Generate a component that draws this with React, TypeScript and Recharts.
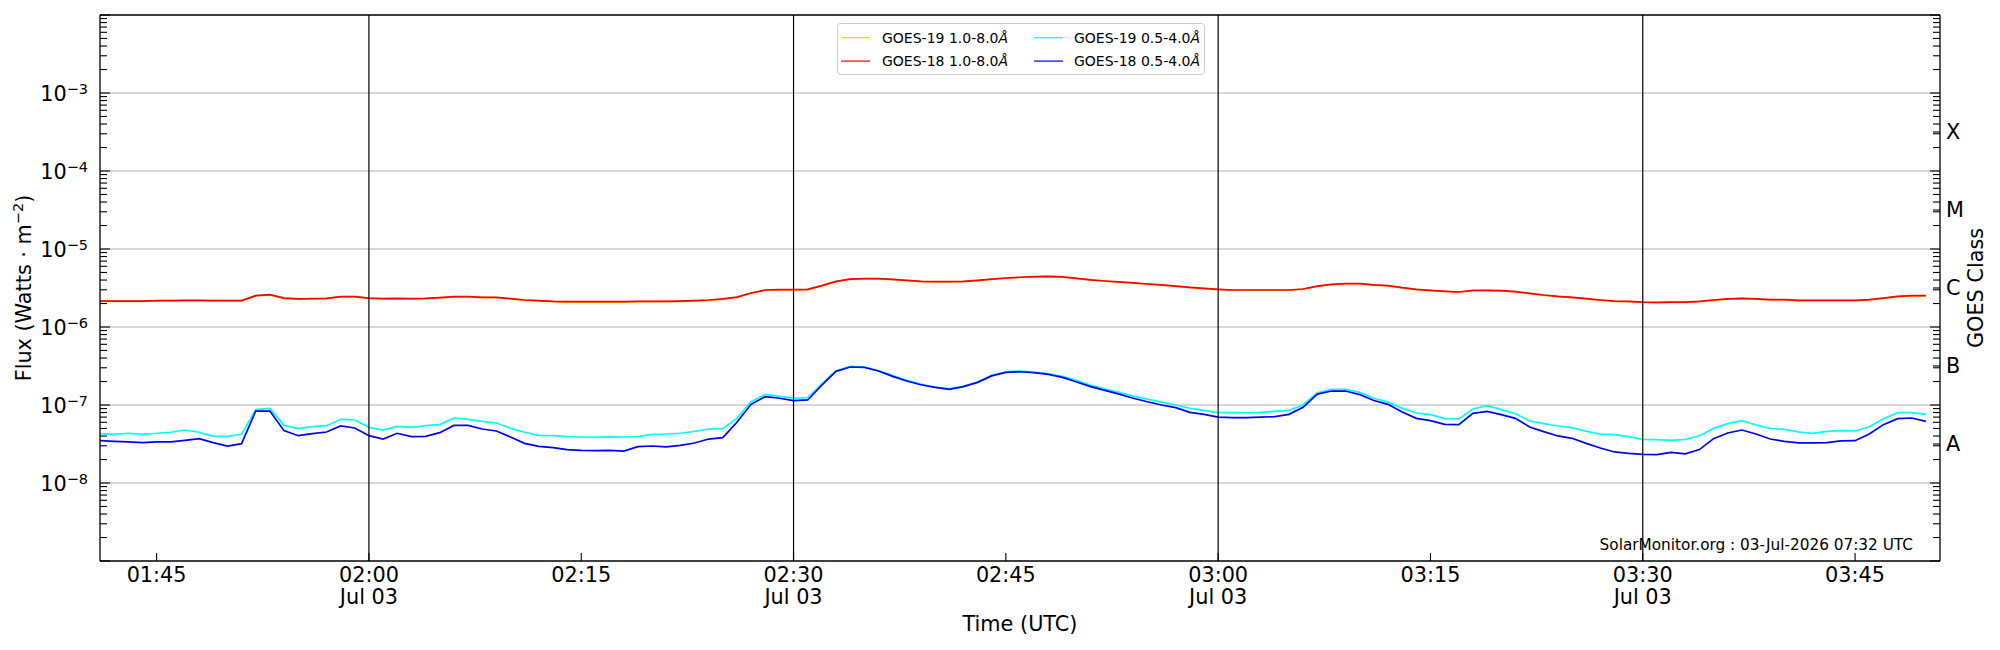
import React from 'react';
import {
  LineChart,
  Line,
  XAxis,
  YAxis,
  ReferenceLine,
  Legend,
  Customized,
} from 'recharts';

// ---------------- data (1-minute GOES XRS fluxes, W/m^2) ----------------
// first sample at 01:41 UTC (minutes after midnight)
const START_MINUTE = 101;

const G18_LONG = [
  2.15e-6, 2.15e-6, 2.15e-6, 2.15e-6, 2.18e-6, 2.18e-6, 2.2e-6, 2.2e-6, 2.18e-6, 2.18e-6,
  2.18e-6, 2.52e-6, 2.6e-6, 2.35e-6, 2.29e-6, 2.31e-6, 2.33e-6, 2.45e-6, 2.45e-6, 2.35e-6,
  2.31e-6, 2.33e-6, 2.31e-6, 2.33e-6, 2.38e-6, 2.45e-6, 2.45e-6, 2.4e-6, 2.4e-6, 2.31e-6,
  2.22e-6, 2.18e-6, 2.13e-6, 2.11e-6, 2.11e-6, 2.11e-6, 2.11e-6, 2.11e-6, 2.13e-6, 2.13e-6,
  2.13e-6, 2.15e-6, 2.18e-6, 2.22e-6, 2.29e-6, 2.42e-6, 2.73e-6, 2.98e-6, 3.01e-6, 3.01e-6,
  3.04e-6, 3.39e-6, 3.85e-6, 4.12e-6, 4.17e-6, 4.17e-6, 4.08e-6, 3.97e-6, 3.85e-6, 3.81e-6,
  3.81e-6, 3.85e-6, 3.97e-6, 4.12e-6, 4.25e-6, 4.34e-6, 4.42e-6, 4.46e-6, 4.38e-6, 4.21e-6,
  4.01e-6, 3.89e-6, 3.78e-6, 3.67e-6, 3.56e-6, 3.46e-6, 3.35e-6, 3.22e-6, 3.13e-6, 3.04e-6,
  2.98e-6, 2.98e-6, 2.98e-6, 2.98e-6, 2.98e-6, 3.07e-6, 3.35e-6, 3.52e-6, 3.59e-6, 3.59e-6,
  3.46e-6, 3.39e-6, 3.19e-6, 3.04e-6, 2.95e-6, 2.87e-6, 2.81e-6, 2.95e-6, 2.95e-6, 2.92e-6,
  2.84e-6, 2.7e-6, 2.57e-6, 2.47e-6, 2.4e-6, 2.31e-6, 2.22e-6, 2.15e-6, 2.13e-6, 2.09e-6,
  2.07e-6, 2.09e-6, 2.09e-6, 2.13e-6, 2.22e-6, 2.29e-6, 2.33e-6, 2.29e-6, 2.24e-6, 2.24e-6,
  2.2e-6, 2.2e-6, 2.2e-6, 2.2e-6, 2.2e-6, 2.24e-6, 2.35e-6, 2.47e-6, 2.52e-6, 2.52e-6,
];

// GOES-19 long channel lies underneath the GOES-18 one in the picture
const G19_LONG = [
  2.13e-6, 2.13e-6, 2.13e-6, 2.13e-6, 2.16e-6, 2.16e-6, 2.18e-6, 2.18e-6, 2.16e-6, 2.16e-6,
  2.16e-6, 2.5e-6, 2.58e-6, 2.33e-6, 2.27e-6, 2.29e-6, 2.31e-6, 2.43e-6, 2.43e-6, 2.33e-6,
  2.29e-6, 2.31e-6, 2.29e-6, 2.31e-6, 2.36e-6, 2.43e-6, 2.43e-6, 2.38e-6, 2.38e-6, 2.29e-6,
  2.2e-6, 2.16e-6, 2.11e-6, 2.09e-6, 2.09e-6, 2.09e-6, 2.09e-6, 2.09e-6, 2.11e-6, 2.11e-6,
  2.11e-6, 2.13e-6, 2.16e-6, 2.2e-6, 2.27e-6, 2.4e-6, 2.71e-6, 2.96e-6, 2.99e-6, 2.99e-6,
  3.02e-6, 3.37e-6, 3.82e-6, 4.09e-6, 4.14e-6, 4.14e-6, 4.05e-6, 3.94e-6, 3.82e-6, 3.78e-6,
  3.78e-6, 3.82e-6, 3.94e-6, 4.09e-6, 4.22e-6, 4.31e-6, 4.39e-6, 4.43e-6, 4.35e-6, 4.18e-6,
  3.98e-6, 3.86e-6, 3.75e-6, 3.64e-6, 3.53e-6, 3.43e-6, 3.32e-6, 3.2e-6, 3.11e-6, 3.02e-6,
  2.96e-6, 2.96e-6, 2.96e-6, 2.96e-6, 2.96e-6, 3.05e-6, 3.32e-6, 3.49e-6, 3.56e-6, 3.56e-6,
  3.43e-6, 3.37e-6, 3.17e-6, 3.02e-6, 2.93e-6, 2.85e-6, 2.79e-6, 2.93e-6, 2.93e-6, 2.9e-6,
  2.82e-6, 2.68e-6, 2.55e-6, 2.45e-6, 2.38e-6, 2.29e-6, 2.2e-6, 2.13e-6, 2.11e-6, 2.07e-6,
  2.05e-6, 2.07e-6, 2.07e-6, 2.11e-6, 2.2e-6, 2.27e-6, 2.31e-6, 2.27e-6, 2.22e-6, 2.22e-6,
  2.18e-6, 2.18e-6, 2.18e-6, 2.18e-6, 2.18e-6, 2.22e-6, 2.33e-6, 2.45e-6, 2.5e-6, 2.5e-6,
];

const G19_SHORT = [
  4.29e-8, 4.21e-8, 4.34e-8, 4.21e-8, 4.34e-8, 4.47e-8, 4.78e-8, 4.47e-8, 3.96e-8, 3.96e-8,
  4.21e-8, 8.71e-8, 9.06e-8, 5.48e-8, 4.97e-8, 5.27e-8, 5.43e-8, 6.55e-8, 6.42e-8, 5.17e-8,
  4.78e-8, 5.33e-8, 5.17e-8, 5.43e-8, 5.6e-8, 6.81e-8, 6.55e-8, 6.18e-8, 5.88e-8, 5.02e-8,
  4.47e-8, 4.08e-8, 4.04e-8, 3.93e-8, 3.89e-8, 3.85e-8, 3.93e-8, 3.89e-8, 3.93e-8, 4.21e-8,
  4.25e-8, 4.34e-8, 4.6e-8, 4.92e-8, 4.97e-8, 6.75e-8, 1.1e-7, 1.37e-7, 1.29e-7, 1.22e-7,
  1.24e-7, 1.86e-7, 2.75e-7, 3.13e-7, 3.07e-7, 2.75e-7, 2.38e-7, 2.07e-7, 1.84e-7, 1.7e-7,
  1.62e-7, 1.73e-7, 1.97e-7, 2.4e-7, 2.67e-7, 2.73e-7, 2.62e-7, 2.52e-7, 2.33e-7, 2.05e-7,
  1.79e-7, 1.6e-7, 1.45e-7, 1.3e-7, 1.19e-7, 1.09e-7, 1.0e-7, 9.06e-8, 8.55e-8, 7.98e-8,
  7.98e-8, 7.98e-8, 8.05e-8, 8.29e-8, 8.55e-8, 1.0e-7, 1.43e-7, 1.59e-7, 1.59e-7, 1.45e-7,
  1.22e-7, 1.09e-7, 9.06e-8, 7.89e-8, 7.51e-8, 6.68e-8, 6.62e-8, 8.89e-8, 9.8e-8, 8.71e-8,
  7.74e-8, 6.24e-8, 5.77e-8, 5.38e-8, 5.12e-8, 4.6e-8, 4.25e-8, 4.17e-8, 3.93e-8, 3.63e-8,
  3.6e-8, 3.52e-8, 3.63e-8, 4.04e-8, 5.02e-8, 5.77e-8, 6.3e-8, 5.54e-8, 5.02e-8, 4.88e-8,
  4.51e-8, 4.34e-8, 4.6e-8, 4.69e-8, 4.64e-8, 5.27e-8, 6.68e-8, 7.98e-8, 7.98e-8, 7.59e-8,
];

const G18_SHORT = [
  3.49e-8, 3.42e-8, 3.36e-8, 3.29e-8, 3.36e-8, 3.36e-8, 3.52e-8, 3.7e-8, 3.29e-8, 2.98e-8,
  3.19e-8, 8.37e-8, 8.37e-8, 4.69e-8, 4.04e-8, 4.29e-8, 4.51e-8, 5.38e-8, 5.07e-8, 4.04e-8,
  3.66e-8, 4.34e-8, 3.93e-8, 3.96e-8, 4.42e-8, 5.48e-8, 5.48e-8, 4.92e-8, 4.64e-8, 3.89e-8,
  3.22e-8, 2.95e-8, 2.84e-8, 2.68e-8, 2.62e-8, 2.6e-8, 2.62e-8, 2.57e-8, 2.92e-8, 2.98e-8,
  2.9e-8, 3.04e-8, 3.26e-8, 3.66e-8, 3.81e-8, 6.0e-8, 1.02e-7, 1.28e-7, 1.22e-7, 1.14e-7,
  1.16e-7, 1.8e-7, 2.7e-7, 3.07e-7, 3.04e-7, 2.73e-7, 2.33e-7, 2.03e-7, 1.82e-7, 1.68e-7,
  1.59e-7, 1.72e-7, 1.95e-7, 2.36e-7, 2.62e-7, 2.67e-7, 2.6e-7, 2.47e-7, 2.26e-7, 1.97e-7,
  1.72e-7, 1.54e-7, 1.38e-7, 1.22e-7, 1.1e-7, 1.0e-7, 9.25e-8, 8.05e-8, 7.59e-8, 7.01e-8,
  6.88e-8, 6.88e-8, 7.01e-8, 7.08e-8, 7.59e-8, 9.33e-8, 1.38e-7, 1.51e-7, 1.51e-7, 1.36e-7,
  1.14e-7, 1.02e-7, 8.13e-8, 6.75e-8, 6.3e-8, 5.65e-8, 5.6e-8, 7.82e-8, 8.29e-8, 7.51e-8,
  6.75e-8, 5.22e-8, 4.55e-8, 4.01e-8, 3.74e-8, 3.22e-8, 2.81e-8, 2.5e-8, 2.4e-8, 2.33e-8,
  2.31e-8, 2.47e-8, 2.36e-8, 2.68e-8, 3.7e-8, 4.38e-8, 4.78e-8, 4.25e-8, 3.66e-8, 3.42e-8,
  3.26e-8, 3.26e-8, 3.29e-8, 3.46e-8, 3.49e-8, 4.25e-8, 5.6e-8, 6.68e-8, 6.81e-8, 6.18e-8,
];

// ---------------- axes ----------------
const X_DOMAIN = [101, 231]; // 01:41 .. 03:51 UTC
const X_TICK_MINUTES = [105, 120, 135, 150, 165, 180, 195, 210, 225];
const X_TICK_LABELS = ['01:45', '02:00', '02:15', '02:30', '02:45', '03:00', '03:15', '03:30', '03:45'];
const X_TICK_DATES = ['', 'Jul 03', '', 'Jul 03', '', 'Jul 03', '', 'Jul 03', ''];
const DAY_LINES = [120, 150, 180, 210];

const Y_DOMAIN = [1e-9, 1e-2];
const Y_LABEL_VALUES = [1e-8, 1e-7, 1e-6, 1e-5, 1e-4, 1e-3];
const Y_LABEL_EXPONENTS = ['\u22128', '\u22127', '\u22126', '\u22125', '\u22124', '\u22123'];
const DECADES = [1e-9, 1e-8, 1e-7, 1e-6, 1e-5, 1e-4, 1e-3];
const MINOR_STEPS = [2, 3, 4, 5, 6, 7, 8, 9];

const CLASS_VALUES = [3.1623e-8, 3.1623e-7, 3.1623e-6, 3.1623e-5, 3.1623e-4];
const CLASS_LABELS = ['A', 'B', 'C', 'M', 'X'];

const SERIES = [
  { key: 'g19l', name: 'GOES-19 1.0-8.0', color: '#ffd000' },
  { key: 'g18l', name: 'GOES-18 1.0-8.0', color: '#ff0000' },
  { key: 'g19s', name: 'GOES-19 0.5-4.0', color: '#00ffff' },
  { key: 'g18s', name: 'GOES-18 0.5-4.0', color: '#0000ff' },
];

const data = G18_LONG.map((_, i) => ({
  t: START_MINUTE + i,
  g19l: G19_LONG[i],
  g18l: G18_LONG[i],
  g19s: G19_SHORT[i],
  g18s: G18_SHORT[i],
}));

const LOG_TICKS: number[] = [];
DECADES.forEach((d) => {
  LOG_TICKS.push(d);
  MINOR_STEPS.forEach((k) => LOG_TICKS.push(k * d));
});
LOG_TICKS.push(1e-2);

const RIGHT_TICKS = [...LOG_TICKS, ...CLASS_VALUES];

const FONT = '"DejaVu Sans", Verdana, sans-serif';
const FS = 20.8;

const near = (a: number, b: number) => Math.abs(a - b) / b < 1e-3;
const isDecade = (v: number) => {
  const l = Math.log10(v);
  return Math.abs(l - Math.round(l)) < 1e-6;
};

const LeftTick = (props: any) => {
  const { x, y, payload } = props;
  const v = payload.value as number;
  const major = isDecade(v);
  const len = major ? 10 : 7;
  const li = Y_LABEL_VALUES.findIndex((lv) => near(v, lv));
  return (
    <g>
      <line x1={x} x2={x + len} y1={y} y2={y} stroke="#000" strokeWidth={1.1} />
      {li >= 0 && (
        <text x={x - 12} y={y + 7.5} textAnchor="end" fontSize={FS} fontFamily={FONT} fill="#000">
          10
          <tspan dy={-7} fontSize={14.5}>
            {Y_LABEL_EXPONENTS[li]}
          </tspan>
        </text>
      )}
    </g>
  );
};

const RightTick = (props: any) => {
  const { x, y, payload } = props;
  const v = payload.value as number;
  const ci = CLASS_VALUES.findIndex((cv) => near(v, cv));
  const len = isDecade(v) ? 10 : 7;
  return (
    <g>
      <line x1={x} x2={x - len} y1={y} y2={y} stroke="#000" strokeWidth={1.1} />
      {ci >= 0 && (
        <text x={x + 6} y={y + 7.5} textAnchor="start" fontSize={FS} fontFamily={FONT} fill="#000">
          {CLASS_LABELS[ci]}
        </text>
      )}
    </g>
  );
};

const BottomTick = (props: any) => {
  const { x, y, payload } = props;
  const i = X_TICK_MINUTES.indexOf(payload.value);
  return (
    <g>
      <line x1={x} x2={x} y1={y} y2={y - 8} stroke="#000" strokeWidth={1.1} />
      <text x={x} y={y + 20.8} textAnchor="middle" fontSize={FS} fontFamily={FONT} fill="#000">
        {X_TICK_LABELS[i]}
      </text>
      {X_TICK_DATES[i] && (
        <text x={x} y={y + 43} textAnchor="middle" fontSize={FS} fontFamily={FONT} fill="#000">
          {X_TICK_DATES[i]}
        </text>
      )}
    </g>
  );
};

const XLabel = (props: any) => {
  const vb = props.viewBox || { x: 92, y: 553, width: 1840 };
  return (
    <text x={vb.x + vb.width / 2} y={vb.y + 69.5} textAnchor="middle" fontSize={FS} fontFamily={FONT} fill="#000">
      Time (UTC)
    </text>
  );
};

const YLabelLeft = (props: any) => {
  const vb = props.viewBox || { x: 0, y: 7, width: 92, height: 546 };
  const cx = vb.x + 22.5;
  const cy = vb.y + vb.height / 2;
  return (
    <text
      x={cx}
      y={cy}
      transform={`rotate(-90, ${cx}, ${cy})`}
      textAnchor="middle"
      fontSize={FS}
      fontFamily={FONT}
      fill="#000"
    >
      Flux (Watts · m
      <tspan dy={-8} fontSize={14.5}>
        {'\u22122'}
      </tspan>
      <tspan dy={8}>)</tspan>
    </text>
  );
};

const YLabelRight = (props: any) => {
  const vb = props.viewBox || { x: 1932, y: 7, width: 52, height: 546 };
  const cx = vb.x + 43;
  const cy = vb.y + vb.height / 2;
  return (
    <text
      x={cx}
      y={cy}
      transform={`rotate(-90, ${cx}, ${cy})`}
      textAnchor="middle"
      fontSize={FS}
      fontFamily={FONT}
      fill="#000"
    >
      GOES Class
    </text>
  );
};

const Watermark = () => (
  <text x={1905} y={541.5} textAnchor="end" fontSize={15.3} fontFamily={FONT} fill="#000">
    SolarMonitor.org : 03-Jul-2026 07:32 UTC
  </text>
);

const LegendBox = () => {
  const cols = [
    { lx: 4, tx: 45 },
    { lx: 197, tx: 237 },
  ];
  const rows = [19.7, 43.1];
  return (
    <svg width={368} height={52} style={{ display: 'block' }}>
      <rect x={0.5} y={0.5} width={367} height={51} rx={3} ry={3} fill="#ffffff" fillOpacity={0.8} stroke="#cccccc" strokeWidth={1} />
      {SERIES.map((s, i) => {
        const c = cols[Math.floor(i / 2)];
        const ry = rows[i % 2];
        return (
          <g key={s.key}>
            <line x1={c.lx} x2={c.lx + 29} y1={ry - 5} y2={ry - 5} stroke={s.color} strokeWidth={1.2} />
            <text x={c.tx} y={ry} fontSize={14} fontFamily={FONT} fill="#000">
              {s.name}
              <tspan fontStyle="italic">Å</tspan>
            </text>
          </g>
        );
      })}
    </svg>
  );
};

export default function App() {
  return (
    <div style={{ width: 1984, height: 640, position: 'relative' }}>
      <LineChart width={1984} height={640} data={data} margin={{ top: 7, right: 0, bottom: 0, left: 0 }}>
        <XAxis
          dataKey="t"
          type="number"
          domain={X_DOMAIN}
          allowDataOverflow
          ticks={X_TICK_MINUTES}
          interval={0}
          tickSize={0}
          tickMargin={0}
          tickLine={false}
          tick={<BottomTick />}
          axisLine={{ stroke: '#000', strokeWidth: 1.3 }}
          height={87}
          label={<XLabel />}
        />
        <YAxis
          yAxisId="left"
          orientation="left"
          scale="log"
          domain={Y_DOMAIN}
          allowDataOverflow
          ticks={LOG_TICKS}
          interval={0}
          tickSize={0}
          tickMargin={0}
          tickLine={false}
          tick={<LeftTick />}
          axisLine={{ stroke: '#000', strokeWidth: 1.3 }}
          width={92}
          label={<YLabelLeft />}
        />
        <YAxis
          yAxisId="right"
          orientation="right"
          scale="log"
          domain={Y_DOMAIN}
          allowDataOverflow
          ticks={RIGHT_TICKS}
          interval={0}
          tickSize={0}
          tickMargin={0}
          tickLine={false}
          tick={<RightTick />}
          axisLine={{ stroke: '#000', strokeWidth: 1.3 }}
          width={52}
          label={<YLabelRight />}
        />
        {Y_LABEL_VALUES.map((v) => (
          <ReferenceLine key={`g${v}`} yAxisId="left" y={v} stroke="#b0b0b0" strokeWidth={1} />
        ))}
        <ReferenceLine yAxisId="left" y={1e-2} stroke="#000" strokeWidth={1.3} />
        {SERIES.map((s) => (
          <Line
            key={s.key}
            yAxisId="left"
            type="linear"
            dataKey={s.key}
            name={s.name}
            stroke={s.color}
            strokeWidth={1.7}
            dot={false}
            activeDot={false}
            isAnimationActive={false}
          />
        ))}
        {DAY_LINES.map((m) => (
          <ReferenceLine key={`d${m}`} yAxisId="left" x={m} stroke="#000" strokeWidth={1.2} />
        ))}
        <Legend
          layout="vertical"
          align="center"
          verticalAlign="middle"
          content={() => <LegendBox />}
          wrapperStyle={{ left: 828.7, top: 14.7, width: 368, height: 52, right: 'auto', bottom: 'auto', margin: 0 }}
        />
        <Customized component={<Watermark />} />
      </LineChart>
    </div>
  );
}
